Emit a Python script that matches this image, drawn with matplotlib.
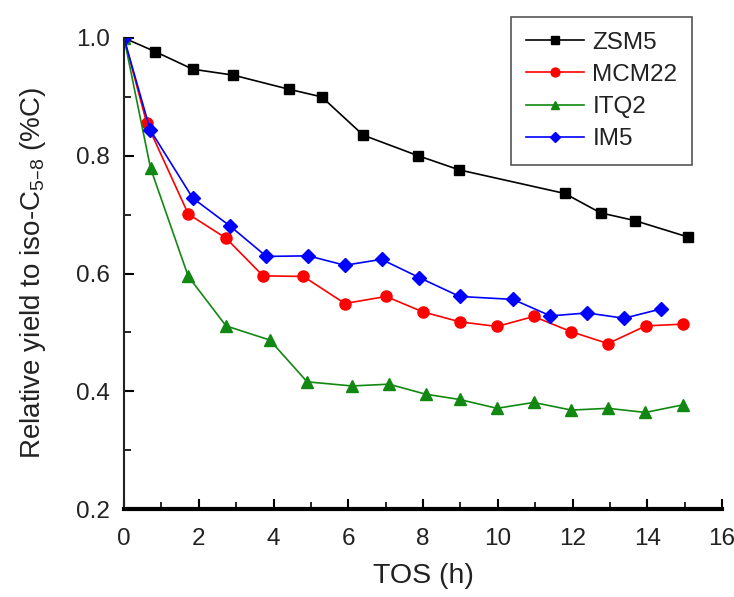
import numpy as np
import matplotlib
matplotlib.use('Agg')
import matplotlib.pyplot as plt

# data
tos_zsm5 = [0, 0.83, 1.84, 2.92, 4.41, 5.29, 6.40, 7.87, 8.97, 11.79, 12.75, 13.66, 15.09]
y_zsm5 = [1.0, 0.977, 0.947, 0.937, 0.913, 0.900, 0.835, 0.800, 0.776, 0.736, 0.703, 0.690, 0.662]

tos_mcm22 = [0, 0.61, 1.72, 2.73, 3.72, 4.80, 5.91, 7.01, 7.99, 8.98, 9.98, 10.96, 11.97, 12.95, 13.96, 14.96]
y_mcm22 = [1.0, 0.855, 0.701, 0.660, 0.596, 0.595, 0.549, 0.561, 0.535, 0.518, 0.510, 0.527, 0.501, 0.481, 0.511, 0.514]

tos_itq2 = [0, 0.71, 1.72, 2.73, 3.90, 4.90, 6.10, 7.09, 8.07, 8.98, 9.98, 10.96, 11.97, 12.95, 13.95, 14.96]
y_itq2 = [1.0, 0.779, 0.595, 0.511, 0.487, 0.416, 0.409, 0.412, 0.395, 0.386, 0.371, 0.381, 0.368, 0.371, 0.364, 0.377]

tos_im5 = [0, 0.70, 1.84, 2.83, 3.81, 4.93, 5.91, 6.89, 7.90, 8.98, 10.41, 11.41, 12.39, 13.38, 14.38]
y_im5 = [1.0, 0.844, 0.728, 0.681, 0.629, 0.630, 0.614, 0.624, 0.593, 0.561, 0.556, 0.528, 0.533, 0.524, 0.540]

plt.rcParams["font.family"] = 'sans-serif'
plt.rcParams["font.sans-serif"] = ['Liberation Sans', 'DejaVu Sans']
plt.rcParams["font.size"] = 17.5
plt.rcParams["mathtext.default"] = 'regular'

fig = plt.figure(figsize=(7.34, 5.97), dpi=100)
ax = fig.add_axes([124/734, 1-509/597, 598/734, 471/597])

ax.plot(tos_zsm5, y_zsm5, '-', color='black', marker='s', markersize=7, linewidth=1.2, label='ZSM5')
ax.plot(tos_mcm22, y_mcm22, '-', color='#ff0000', marker='o', markersize=8, linewidth=1.2, label='MCM22')
ax.plot(tos_itq2, y_itq2, '-', color='#118811', marker='^', markersize=8, linewidth=1.2, label='ITQ2')
ax.plot(tos_im5, y_im5, '-', color='#0000ff', marker='D', markersize=7, linewidth=1.2, label='IM5')

ax.set_xlim(0, 16)
ax.set_ylim(0.2, 1.0)
ax.set_xticks(np.arange(0, 17, 2))
ax.set_xticks(np.arange(1, 16, 2), minor=True)
ax.set_yticks([0.2, 0.4, 0.6, 0.8, 1.0])
ax.set_yticks([0.3, 0.5, 0.7, 0.9], minor=True)
ax.tick_params(which='major', direction='in', length=7, width=1.5, labelcolor='#222222')
ax.tick_params(which='minor', direction='in', length=5, width=1.2)
ax.tick_params(axis='x', pad=14)
ax.tick_params(axis='y', pad=10)

ax.spines['top'].set_visible(False)
ax.spines['right'].set_visible(False)
ax.spines['bottom'].set_linewidth(3)
ax.spines['left'].set_linewidth(1.5)
ax.spines['left'].set_color('#222222')

ax.set_xlabel('TOS (h)', fontsize=20.5, labelpad=9, color='#222222')
ax.set_ylabel('Relative yield to iso-C$_{5\u20138}$ (%C)', fontsize=20, labelpad=20, color='#222222')

leg = ax.legend(loc='upper right', bbox_to_anchor=(692/734, 1-17/597), bbox_transform=fig.transFigure,
                borderaxespad=0, fancybox=False, edgecolor='#555555', framealpha=1,
                handlelength=2.4, handletextpad=0.35, labelspacing=0.42, numpoints=1,
                borderpad=0.6, fontsize=17.5, markerscale=0.8)
leg.get_frame().set_linewidth(1.2)
for t in leg.get_texts():
    t.set_color('#222222')

plt.savefig('out.png', dpi=100)
plt.close()
